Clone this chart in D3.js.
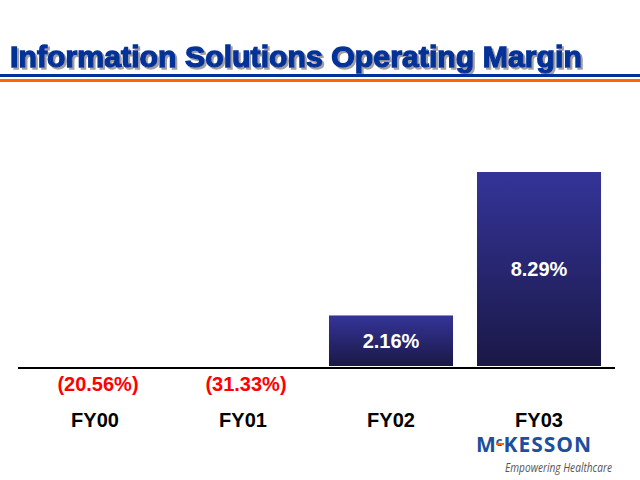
<!DOCTYPE html>
<html>
<head>
<meta charset="utf-8">
<script src="https://cdn.jsdelivr.net/npm/d3@7"></script>
<style>
	body { margin: 0; background: #fff; }
	svg { display: block; }
</style>
</head>
<body>
<div id="chart"></div>
<script>
// values
const categories = ["FY00", "FY01", "FY02", "FY03"];
const margins = [-20.56, -31.33, 2.16, 8.29];
const valueLabels = ["(20.56%)", "(31.33%)", "2.16%", "8.29%"];
const titleText = "Information Solutions Operating Margin";

const width = 640, height = 480;

const svg = d3.select("#chart").append("svg")
	.attr("width", width)
	.attr("height", height);

const defs = svg.append("defs");

// gradient for the bars
const grad = defs.append("linearGradient")
	.attr("id", "barGrad")
	.attr("x1", 0).attr("y1", 0).attr("x2", 0).attr("y2", 1);
grad.append("stop").attr("offset", "0%").attr("stop-color", "#343499");
grad.append("stop").attr("offset", "100%").attr("stop-color", "#1a1846");

// grey drop shadow for the title
const shadow = defs.append("filter")
	.attr("id", "shadow")
	.attr("x", "-5%").attr("y", "-20%").attr("width", "110%").attr("height", "140%");
shadow.append("feOffset").attr("in", "SourceAlpha").attr("dx", 2).attr("dy", 2).attr("result", "off");
shadow.append("feFlood").attr("flood-color", "#a0a0a0").attr("result", "col");
shadow.append("feComposite").attr("in", "col").attr("in2", "off").attr("operator", "in").attr("result", "sh");
const merge = shadow.append("feMerge");
merge.append("feMergeNode").attr("in", "sh");
merge.append("feMergeNode").attr("in", "SourceGraphic");

// title
svg.append("text")
	.attr("x", 10).attr("y", 67)
	.attr("textLength", 572).attr("lengthAdjust", "spacingAndGlyphs")
	.attr("filter", "url(#shadow)")
	.style("font-family", "'Liberation Sans', Arial, sans-serif")
	.style("font-weight", "bold")
	.style("font-size", "29px")
	.attr("fill", "#003399")
	.attr("stroke", "#003399")
	.attr("stroke-width", 1.3)
	.text(titleText);

// header rules
svg.append("rect").attr("x", 0).attr("y", 74).attr("width", width).attr("height", 3).attr("fill", "#003399");
svg.append("rect").attr("x", 0).attr("y", 79).attr("width", width).attr("height", 3).attr("fill", "#ff6600");

// scales
const xScale = d3.scaleBand()
	.domain(categories)
	.range([9, 625])
	.padding(0.162);

const yScale = d3.scaleLinear()
	.domain([0, 10])
	.range([366, 132]);

const data = categories.map((c, i) => ({ cat: c, value: margins[i], label: valueLabels[i] }));

// only positive margins get a bar
const pos = data.filter(d => d.value > 0);

svg.selectAll("rect.bar")
	.data(pos)
	.join("rect")
	.attr("class", "bar")
	.attr("x", d => xScale(d.cat))
	.attr("y", d => yScale(d.value))
	.attr("width", xScale.bandwidth())
	.attr("height", d => yScale(0) - yScale(d.value))
	.attr("fill", "url(#barGrad)");

// baseline
svg.append("line")
	.attr("x1", 18).attr("x2", 615)
	.attr("y1", yScale(0) + 2).attr("y2", yScale(0) + 2)
	.attr("stroke", "#000")
	.attr("stroke-width", 2);

const font = "'Liberation Sans', Arial, sans-serif";

// labels inside positive bars
svg.selectAll("text.inlabel")
	.data(pos)
	.join("text")
	.attr("class", "inlabel")
	.attr("x", d => xScale(d.cat) + xScale.bandwidth() / 2)
	.attr("y", d => (yScale(d.value) + yScale(0)) / 2 + 7)
	.attr("text-anchor", "middle")
	.style("font-family", font)
	.style("font-weight", "bold")
	.style("font-size", "20px")
	.attr("fill", "#fff")
	.text(d => d.label);

// negative labels under the axis
svg.selectAll("text.neglabel")
	.data(data.filter(d => d.value < 0))
	.join("text")
	.attr("class", "neglabel")
	.attr("x", d => xScale(d.cat) + xScale.bandwidth() / 2 + 3)
	.attr("y", 391)
	.attr("text-anchor", "middle")
	.style("font-family", font)
	.style("font-weight", "bold")
	.style("font-size", "20px")
	.attr("fill", "#ff0000")
	.text(d => d.label);

// category labels
svg.selectAll("text.cat")
	.data(categories)
	.join("text")
	.attr("class", "cat")
	.attr("x", d => xScale(d) + xScale.bandwidth() / 2)
	.attr("y", 427)
	.attr("text-anchor", "middle")
	.style("font-family", font)
	.style("font-weight", "bold")
	.style("font-size", "20px")
	.attr("fill", "#000")
	.text(d => d);

// McKesson logo
const logo = svg.append("text")
	.attr("x", 476).attr("y", 452)
	.style("font-family", "'Open Sans', 'Noto Sans', sans-serif")
	.style("font-weight", "bold")
	.style("font-size", "21px")
	.attr("fill", "#1d4f9c");
logo.append("tspan").text("M");
logo.append("tspan").attr("dy", -6).style("font-size", "13px").text("c");
logo.append("tspan").attr("dy", 6).attr("dx", 1).attr("letter-spacing", 1).text("KESSON");
svg.append("rect").attr("x", 496).attr("y", 443).attr("width", 8).attr("height", 2).attr("fill", "#ff6600");

svg.append("text")
	.attr("x", 505).attr("y", 472)
	.attr("textLength", 107).attr("lengthAdjust", "spacingAndGlyphs")
	.style("font-family", "'Open Sans', 'Noto Sans', sans-serif")
	.style("font-style", "italic")
	.style("font-size", "12px")
	.attr("fill", "#555")
	.text("Empowering Healthcare");
</script>
</body>
</html>
